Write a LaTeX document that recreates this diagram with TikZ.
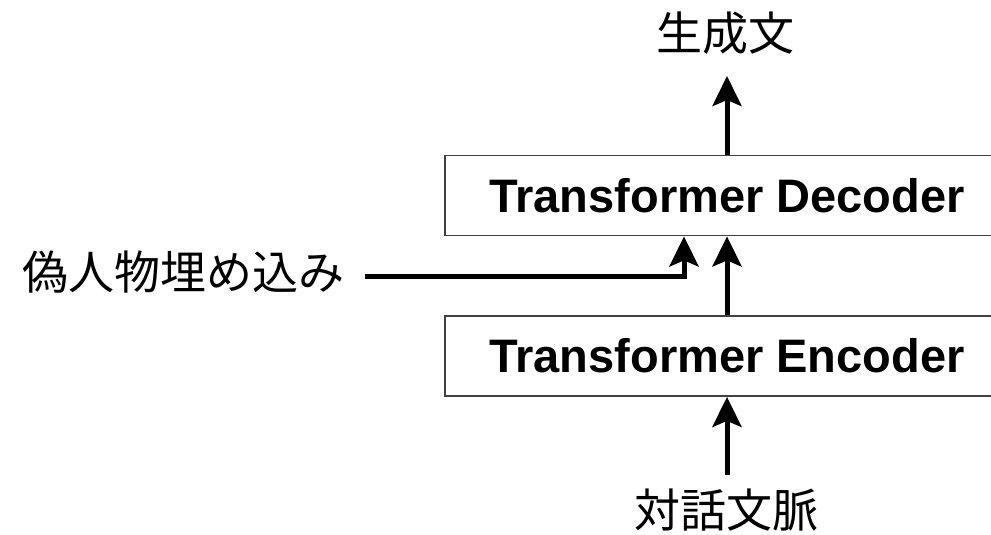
\documentclass[tikz,border=0pt]{standalone}
\usepackage{fontspec}
\setmainfont{Liberation Sans}
\newfontfamily\jpfont{Noto Sans CJK JP}
\usetikzlibrary{arrows.meta}
\begin{document}
\begin{tikzpicture}[x=1pt,y=-1pt,
  box/.style={draw=black!75, line width=1.8pt, minimum width=564pt, minimum height=80pt, inner sep=0pt,
    font=\fontsize{47}{50}\selectfont\bfseries},
  lbl/.style={inner sep=0pt, font=\jpfont\fontsize{46}{50}\selectfont},
  arr/.style={line width=5pt, -{Stealth[length=30pt,width=29pt,inset=6pt]}}]
\useasboundingbox (0,0) rectangle (991,535);
\node[box] (dec) at (727,195.5) {Transformer Decoder};
\node[box] (enc) at (727,356) {Transformer Encoder};
\node[lbl] (out) at (725,33) {生成文};
\node[lbl] (in) at (726,510) {対話文脈};
\node[lbl, anchor=east] (emb) at (345,272) {偽人物埋め込み};
\coordinate (outtip) at (727,76);
\coordinate (intail) at (727,475);
\coordinate (embstart) at (365,276);
\draw[arr] (dec.north) -- (outtip);
\draw[arr] (enc.north) -- (dec.south);
\draw[arr] (intail) -- (enc.south);
\draw[arr] (embstart) -| ([xshift=-43pt]dec.south);
\end{tikzpicture}
\end{document}
